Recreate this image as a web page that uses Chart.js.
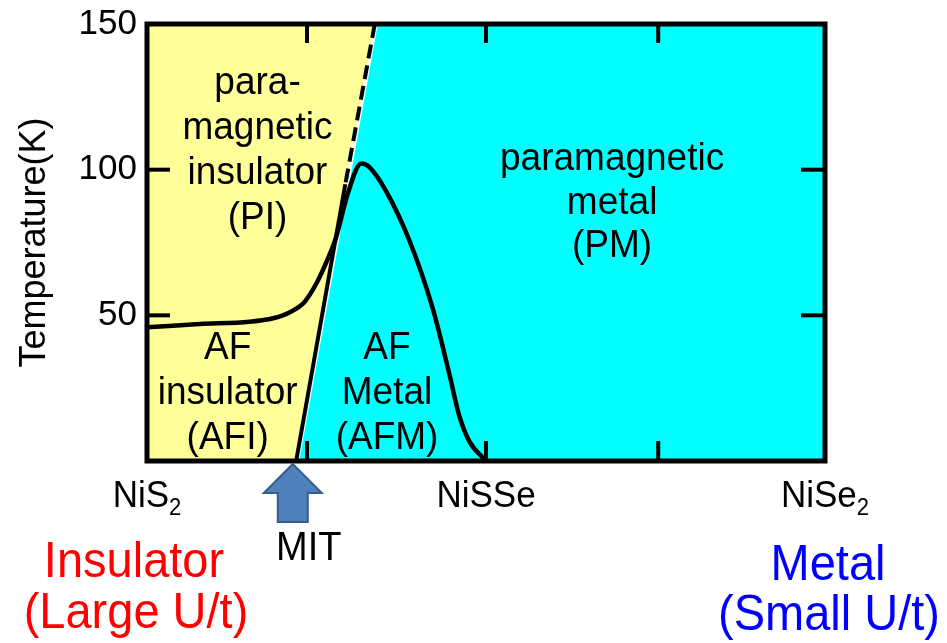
<!DOCTYPE html>
<html>
<head>
<meta charset="utf-8">
<title>NiS2-xSex phase diagram</title>
<script src="https://cdn.jsdelivr.net/npm/chart.js@4/dist/chart.umd.min.js"></script>
<style>
  html, body { margin: 0; padding: 0; background: #ffffff; }
  canvas { display: block; }
</style>
</head>
<body>
<canvas id="c" width="947" height="643"></canvas>
<script>
// Composition axis: 0 = NiS2, 0.5 = NiSSe, 1 = NiSe2
const xTickValues = [0, 0.5, 1];
const xTickNames = ['NiS2', 'NiSSe', 'NiSe2'];
const xMinorTicks = [0.236, 0.5, 0.754];
const yTickValues = [50, 100, 150];

// Metal-insulator boundary (x, T in K); solid below the Néel line, dashed above
const boundaryX = [0.220, 0.2925, 0.336];
const boundaryT = [0, 95, 150];

// Néel temperature T_N(x)
const neelX = [0, 0.078, 0.151, 0.186, 0.210, 0.232, 0.250, 0.266, 0.279, 0.296, 0.316, 0.328, 0.352, 0.387, 0.421, 0.446, 0.460, 0.475, 0.500];
const neelT = [45.9, 47.0, 47.8, 49.0, 51.0, 54.5, 61.0, 69.0, 76.8, 91.7, 102.1, 100.9, 92.9, 75.7, 52.7, 29.8, 16.0, 6.9, 0];

// Phase names
const regionNames = [
  ['para-', 'magnetic', 'insulator', '(PI)'],
  ['paramagnetic', 'metal', '(PM)'],
  ['AF', 'insulator', '(AFI)'],
  ['AF', 'Metal', '(AFM)']
];

// Where each phase name sits (composition, temperature of first baseline) and line step in px
const labelAnchors = [
  { x: 0.163, t: 125.9, step: 45 },
  { x: 0.686, t: 99.8, step: 43.5 },
  { x: 0.119, t: 35.1, step: 45 },
  { x: 0.354, t: 35.1, step: 45 }
];

const mitX = 0.215;
const cyanGap = 0.0045;

const FONT = "'Liberation Sans', Arial, Helvetica, sans-serif";
const YELLOW = '#FFFF99';
const CYAN = '#00FFFF';

const pts = (xs, ys) => xs.map((v, i) => ({ x: v, y: ys[i] }));

const yellowEdge = [
  { x: 0, y: 0 },
  { x: boundaryX[0], y: 0 },
  { x: boundaryX[2], y: 150 }
];
const cyanEdge = [
  { x: boundaryX[0] + cyanGap, y: 0 },
  { x: boundaryX[2] + cyanGap, y: 150 },
  { x: 1, y: 150 }
];

// text drawn slightly taller than wide, as in the printed figure
const TALL = 1.07;
function tallText(ctx, s, x, y) {
  ctx.save();
  ctx.translate(x, y);
  ctx.scale(1, TALL);
  ctx.fillText(s, 0, 0);
  ctx.restore();
}

const decor = {
  id: 'decor',
  afterDatasetsDraw(chart) {
    const { ctx, chartArea: a, scales: { x, y } } = chart;
    const line = (x1, y1, x2, y2) => {
      ctx.beginPath(); ctx.moveTo(x1, y1); ctx.lineTo(x2, y2); ctx.stroke();
    };
    ctx.save();

    // phase names
    ctx.fillStyle = '#000';
    ctx.font = `37px ${FONT}`;
    ctx.textAlign = 'center';
    ctx.textBaseline = 'alphabetic';
    regionNames.forEach((lines, i) => {
      const px = x.getPixelForValue(labelAnchors[i].x);
      const py = y.getPixelForValue(labelAnchors[i].t);
      lines.forEach((s, k) => tallText(ctx, s, px, py + k * labelAnchors[i].step));
    });

    // inward tick marks
    ctx.strokeStyle = '#000';
    ctx.lineWidth = 4;
    ctx.lineCap = 'butt';
    xMinorTicks.forEach(v => {
      const px = x.getPixelForValue(v);
      line(px, a.top, px, a.top + 19);
      line(px, a.bottom, px, a.bottom - 20);
    });
    yTickValues.forEach(v => {
      if (v >= y.max) return;
      const py = y.getPixelForValue(v);
      line(a.left, py, a.left + 23, py);
      line(a.right, py, a.right - 24, py);
    });

    // frame
    ctx.lineWidth = 5;
    ctx.lineJoin = 'miter';
    ctx.strokeRect(a.left, a.top, a.right - a.left, a.bottom - a.top);

    // composition labels with subscripts
    ctx.textAlign = 'left';
    xTickNames.forEach((name, i) => {
      const m = name.match(/^(.*?)(\d*)$/);
      const base = m[1], sub = m[2];
      ctx.font = `35px ${FONT}`;
      const wb = ctx.measureText(base).width;
      ctx.font = `22px ${FONT}`;
      const ws = sub ? ctx.measureText(sub).width : 0;
      const px = x.getPixelForValue(xTickValues[i]);
      const x0 = px - (wb + ws) / 2;
      const by = a.bottom + 46;
      ctx.font = `35px ${FONT}`;
      tallText(ctx, base, x0, by);
      if (sub) {
        ctx.font = `22px ${FONT}`;
        tallText(ctx, sub, x0 + wb, by + 8);
      }
    });

    // MIT arrow
    const ax = x.getPixelForValue(mitX);
    const b = a.bottom;
    ctx.beginPath();
    ctx.moveTo(ax, b + 3);
    ctx.lineTo(ax + 29, b + 32);
    ctx.lineTo(ax + 15, b + 32);
    ctx.lineTo(ax + 15, b + 61);
    ctx.lineTo(ax - 15, b + 61);
    ctx.lineTo(ax - 15, b + 32);
    ctx.lineTo(ax - 29, b + 32);
    ctx.closePath();
    ctx.fillStyle = '#4F81BD';
    ctx.fill();
    ctx.strokeStyle = '#385D8A';
    ctx.lineWidth = 2;
    ctx.lineJoin = 'miter';
    ctx.stroke();

    ctx.fillStyle = '#000';
    ctx.textAlign = 'center';
    ctx.font = `38px ${FONT}`;
    tallText(ctx, 'MIT', ax + 16, b + 99);

    // insulator / metal ends
    const xl = x.getPixelForValue(0);
    const xr = x.getPixelForValue(1);
    ctx.font = `47px ${FONT}`;
    ctx.fillStyle = '#FF0000';
    tallText(ctx, 'Insulator', xl - 13, b + 116);
    tallText(ctx, '(Large U/t)', xl - 11, b + 167);
    ctx.fillStyle = '#0000FF';
    tallText(ctx, 'Metal', xr + 3, b + 119);
    tallText(ctx, '(Small U/t)', xr + 4, b + 169);

    ctx.restore();
  }
};

new Chart(document.getElementById('c'), {
  type: 'line',
  data: {
    datasets: [
      {
        label: 'Néel temperature',
        data: pts(neelX, neelT),
        borderColor: '#000',
        borderWidth: 4.5,
        pointRadius: 0,
        cubicInterpolationMode: 'monotone',
        fill: false,
        order: 1
      },
      {
        label: 'MIT boundary',
        data: pts(boundaryX.slice(0, 2), boundaryT.slice(0, 2)),
        borderColor: '#000',
        borderWidth: 4,
        pointRadius: 0,
        fill: false,
        order: 2
      },
      {
        label: 'MIT boundary (extrapolated)',
        data: pts(boundaryX.slice(1).reverse(), boundaryT.slice(1).reverse()),
        borderColor: '#000',
        borderWidth: 4,
        borderDash: [14, 7],
        borderCapStyle: 'butt',
        pointRadius: 0,
        fill: false,
        order: 3
      },
      {
        label: 'insulating',
        data: yellowEdge,
        borderWidth: 0,
        borderColor: 'rgba(0,0,0,0)',
        backgroundColor: YELLOW,
        pointRadius: 0,
        tension: 0,
        fill: 'end',
        order: 10
      },
      {
        label: 'metallic',
        data: cyanEdge,
        borderWidth: 0,
        borderColor: 'rgba(0,0,0,0)',
        backgroundColor: CYAN,
        pointRadius: 0,
        tension: 0,
        fill: 'origin',
        order: 11
      }
    ]
  },
  options: {
    responsive: false,
    animation: false,
    events: [],
    layout: { padding: { left: 0, top: 24, right: 122, bottom: 182 } },
    plugins: {
      legend: { display: false },
      tooltip: { enabled: false },
      filler: { propagate: false }
    },
    scales: {
      x: {
        type: 'linear',
        min: 0,
        max: 1,
        display: false
      },
      y: {
        type: 'linear',
        min: 0,
        max: 150,
        grid: { display: false, drawTicks: false },
        border: { display: false },
        afterBuildTicks: s => { s.ticks = yTickValues.map(v => ({ value: v })); },
        afterFit: s => { s.width = 147; s.paddingTop = 0; s.paddingBottom = 0; },
        ticks: {
          padding: 10,
          color: '#000',
          font: { family: FONT, size: 35 }
        },
        title: {
          display: true,
          text: 'Temperature(K)',
          color: '#000',
          font: { family: FONT, size: 36 },
          padding: { top: 13, bottom: 0 }
        }
      }
    }
  },
  plugins: [decor]
});
</script>
</body>
</html>
